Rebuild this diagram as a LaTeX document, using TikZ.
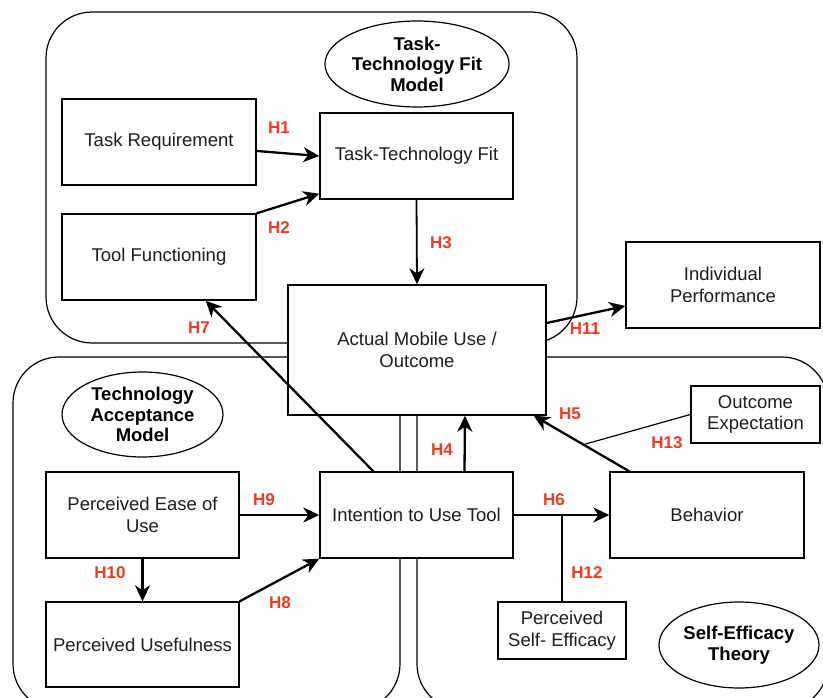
\documentclass[tikz,border=0pt]{standalone}
\usepackage{fontspec}
\setmainfont{Liberation Sans}
\usetikzlibrary{arrows.meta,calc,shapes.geometric}
\definecolor{hred}{RGB}{242,58,30}
\definecolor{txt}{RGB}{30,30,30}
\begin{document}
\begin{tikzpicture}[x=1pt,y=-1pt,
 box/.style={draw=black, line width=1.4pt, fill=white, text=txt, align=center, font=\fontsize{18.5}{21.5}\selectfont, inner sep=2pt},
 ell/.style={ellipse, draw=black, line width=1.2pt, fill=white, text=black, align=center, font=\bfseries\fontsize{18.5}{20.5}\selectfont, inner sep=0pt},
 cont/.style={draw=black, line width=1.2pt, rounded corners=46pt},
 arr/.style={-{Stealth[length=16pt,width=15pt,inset=5pt]}, line width=2.3pt},
 thinarr/.style={-{Stealth[length=16pt,width=15pt,inset=5pt]}, line width=1.8pt},
 lbl/.style={text=hred, font=\bfseries\fontsize{17}{17}\selectfont, inner sep=0pt},
 ln/.style={line width=1.2pt}]
\useasboundingbox (0,0) rectangle (823,698);
\fill[white] (0,0) rectangle (823,698);
% containers
\begin{scope}
\clip (0,0) rectangle (823,698);
\draw[cont] (46,12) rectangle (577,343);
\draw[cont] (13,357) rectangle (400,710);
\draw[cont] (417,357) rectangle (828,710);
\end{scope}
% ellipses
\node[ell, minimum width=162pt, minimum height=86pt] (ttfm) at (417,64) {Task-\\Technology Fit\\Model};
\node[ell, minimum width=161pt, minimum height=85pt] (tam) at (142.5,414.5) {Technology\\Acceptance\\Model};
\node[ell, minimum width=160pt, minimum height=86pt] (set) at (739,645) {Self-Efficacy\\Theory};
% boxes
\node[box, minimum width=194pt, minimum height=86pt] (tr) at (159,142) {Task Requirement};
\node[box, minimum width=194pt, minimum height=86pt] (tf) at (159,257) {Tool Functioning};
\node[box, minimum width=193pt, minimum height=86pt] (ttf) at (416.5,156) {Task-Technology Fit};
\node[box, minimum width=258pt, minimum height=130pt] (amu) at (417,350) {Actual Mobile Use /\\Outcome};
\node[box, minimum width=194pt, minimum height=86pt] (ip) at (723,285) {Individual\\Performance};
\node[box, minimum width=129pt, minimum height=57pt] (oe) at (755.5,414.5) {Outcome\\Expectation};
\node[box, minimum width=193pt, minimum height=86pt] (peou) at (142.5,515) {Perceived Ease of\\Use};
\node[box, minimum width=193pt, minimum height=85pt] (pu) at (142.5,644.5) {Perceived Usefulness};
\node[box, minimum width=193pt, minimum height=86pt] (itu) at (416.5,515) {Intention to Use Tool};
\node[box, minimum width=194pt, minimum height=86pt] (beh) at (707,515) {Behavior};
\node[box, minimum width=128pt, minimum height=57pt] (pse) at (562,630.5) {Perceived\\Self- Efficacy};
% connectors
\draw[arr] ($(tr.east)+(0,9)$) -- (ttf.west);
\draw[arr] (tf.north east) -- ($(ttf.south west)+(0,-6)$);
\draw[thinarr] (ttf.south) -- (amu.north);
\draw[arr] ($(amu.east)+(0,-27)$) -- ($(ip.west)+(0,21)$);
\draw[arr] ($(itu.north west)+(54,0)$) -- ($(tf.south east)+(-51,0)$);
\draw[arr] ($(itu.north)+(48,0)$) -- ($(amu.south)+(48,0)$);
\coordinate (h5s) at ($(beh.north west)+(20,0)$);
\coordinate (h5e) at ($(amu.south east)+(-13,0)$);
\draw[arr] (h5s) -- (h5e);
\coordinate (h13e) at ($(h5s)!0.48!(h5e)$);
\draw[ln] (oe.west) -- (h13e);
\draw[arr] (peou.east) -- (itu.west);
\draw[arr] (peou.south) -- (pu.north);
\draw[arr] (pu.north east) -- (itu.south west);
\draw[arr] (itu.east) -- (beh.west);
\coordinate (h12e) at (pse.north |- itu.east);
\draw[ln] (pse.north) -- (h12e);
% labels
\node[lbl] (l1) at (279,128) {H1};
\node[lbl] (l2) at (279,228) {H2};
\node[lbl] (l3) at (441,243) {H3};
\node[lbl] (l11) at (585,329) {H11};
\node[lbl] (l7) at (199,328) {H7};
\node[lbl] (l4) at (442,450) {H4};
\node[lbl] (l5) at (570,414) {H5};
\node[lbl] (l13) at (667,443) {H13};
\node[lbl] (l9) at (264,500) {H9};
\node[lbl] (l6) at (554,500) {H6};
\node[lbl] (l10) at (110,573) {H10};
\node[lbl] (l12) at (587,573) {H12};
\node[lbl] (l8) at (280,603) {H8};
\end{tikzpicture}
\end{document}
